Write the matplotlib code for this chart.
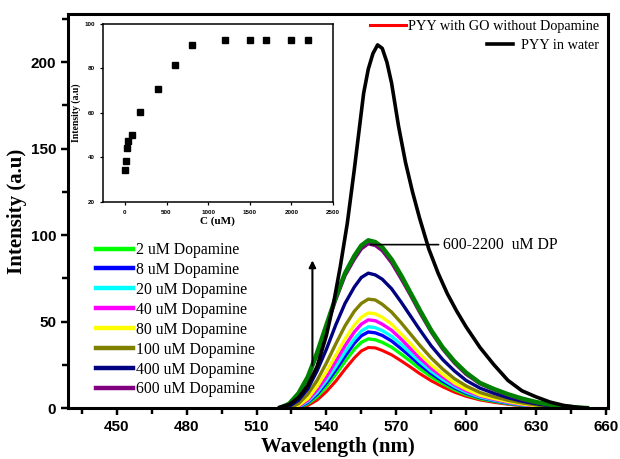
import numpy as np
import matplotlib

matplotlib.use("Agg")
import matplotlib.pyplot as plt
from matplotlib.lines import Line2D

nan = np.nan

# emission spectra (nm, a.u.)
wavelength = [520, 524, 528, 532, 536, 540, 544, 548, 552, 555, 558, 561, 564, 568, 572,
              576, 580, 585, 590, 595, 600, 606, 612, 618, 624, 630, 636, 642, 648, 652]

# PYY in water was read on a finer grid round its peak
water_wl = [520, 524, 528, 532, 536, 540, 543, 546, 549, 552, 554, 556, 558, 560, 562,
            564, 566, 568, 571, 574, 577, 580, 584, 588, 592, 596, 600, 606, 612, 618,
            624, 630, 636, 642, 648, 652]
pyy_water = [0.5, 2, 6, 13, 24, 42, 60, 82, 107, 138, 160, 182, 196, 205, 210,
             208, 200, 188, 163, 142, 125, 110, 92, 78, 66, 56, 47, 35, 25, 16,
             10, 6.5, 3.5, 1.5, 0.4, 0]

go_no_dp = [nan, 0, 0, 1.5, 4.6, 9.5, 15.5, 22.5, 29, 33, 35, 34.8, 33.3, 30.8, 27.4,
            23.8, 20, 15.8, 12.3, 9.2, 6.8, 4.7, 3.3, 2.2, 1.3, 0.7, 0.2, 0, nan, nan]
dp_2 = [nan, 0, 0.3, 2.5, 6.5, 12.5, 19.5, 27, 34, 38, 40, 39.5, 38, 35.2, 31.3,
        27.2, 22.9, 18.1, 14.1, 10.6, 7.8, 5.4, 3.9, 2.6, 1.6, 0.9, 0.3, 0, nan, nan]
dp_8 = [nan, 0, 0.5, 3.2, 8, 14.5, 22, 30, 37.5, 41.8, 44, 43.5, 42, 38.8, 34.5,
        30, 25.2, 20, 15.5, 11.7, 8.6, 6, 4.3, 2.9, 1.8, 1, 0.4, 0, nan, nan]
dp_20 = [nan, 0, 0.7, 3.8, 9, 16, 24, 32.5, 40, 44.5, 47, 46.5, 44.8, 41.5, 37,
         32, 27, 21.3, 16.5, 12.5, 9.2, 6.4, 4.6, 3.1, 1.9, 1, 0.4, 0, nan, nan]
dp_40 = [nan, 0, 1, 4.5, 10.5, 18, 27, 36, 44, 48.5, 51, 50.5, 48.5, 45, 40,
         34.5, 29, 23, 18, 13.5, 10, 7, 5, 3.4, 2.1, 1.2, 0.5, 0, nan, nan]
dp_80 = [nan, 0, 1.5, 5.5, 12.5, 21, 30.5, 40, 48, 52.5, 55, 54.5, 52.5, 48.5, 43,
         37.5, 31.5, 25, 19.5, 14.5, 11, 7.5, 5.5, 3.8, 2.4, 1.4, 0.6, 0, nan, nan]
dp_100 = [nan, 0, 2.5, 8, 16, 26, 37, 47.5, 56, 60.5, 63, 62.5, 60, 55.5, 49.5,
          43, 36.5, 29, 22.5, 17, 12.8, 9, 6.5, 4.5, 3, 1.8, 0.9, 0.2, 0, nan]
dp_400 = [0, 1, 4.5, 11, 21.5, 34, 48, 60.5, 70, 75.5, 78, 77, 74.5, 69, 61.5,
          53.5, 45.5, 36, 28, 21.5, 16, 11.5, 8.5, 6, 4, 2.5, 1.3, 0.5, 0, nan]
dp_600 = [0, 2, 8, 17, 31, 46.5, 62.5, 76.5, 86, 92, 95, 94, 91, 84, 75,
          65.5, 55.5, 44, 34, 26, 19.5, 14, 10.5, 7.5, 5, 3.2, 1.8, 0.8, 0.2, 0]
dp_high = [0, 2.5, 8.5, 18, 32, 48, 64, 78, 88, 94, 97, 96, 93, 86, 77,
           67, 57, 45, 35, 27, 20.5, 14.5, 11, 8, 5.5, 3.5, 2, 1, 0.3, 0]

dp_labels = ["2 uM Dopamine", "8 uM Dopamine", "20 uM Dopamine", "40 uM Dopamine",
             "80 uM Dopamine", "100 uM Dopamine", "400 uM Dopamine", "600 uM Dopamine"]
dp_colors = ["#00ff00", "#0000ff", "#00ffff", "#ff00ff", "#ffff00", "#808000", "#000080", "#800080"]

# inset: peak intensity vs concentration
conc = [2, 8, 20, 40, 80, 180, 400, 600, 800, 1200, 1500, 1700, 2000, 2200]
peak = [34.2, 38.3, 44.1, 47.4, 50.3, 60.2, 70.6, 81.4, 90.4, 92.6, 92.6, 92.6, 92.6, 92.6]

SERIF = "Liberation Serif"
SANS = "Liberation Sans"


def style_axes(ax, lw, size, length, minor=True):
    for s in ax.spines.values():
        s.set_linewidth(lw)
    ax.tick_params(which="major", direction="out", length=length, width=lw * 0.8,
                   labelsize=size, top=False, right=False)
    if minor:
        ax.tick_params(which="minor", direction="out", length=length * 0.8, width=lw * 0.8,
                       top=False, right=False)
    for lab in ax.get_xticklabels() + ax.get_yticklabels():
        lab.set_fontfamily(SANS)
        lab.set_fontweight("bold")


def main() -> None:
    fig = plt.figure(figsize=(6.2, 4.59), dpi=100)
    ax = fig.add_axes([0.1097, 0.111, 0.871, 0.859])

    x = np.array(wavelength, dtype=float)
    series = [dp_2, dp_8, dp_20, dp_40, dp_80, dp_100, dp_400, dp_600]

    ax.plot(x, go_no_dp, color="#ff0000", lw=2.2)
    dp_handles = []
    for y, c, lab in zip(series, dp_colors, dp_labels):
        ax.plot(x, y, color=c, lw=2.4)
        dp_handles.append(Line2D([], [], color=c, lw=3.2, label=lab))
    ax.plot(x, dp_high, color="#008000", lw=3.2)
    ax.plot(water_wl, pyy_water, color="black", lw=2.6)

    ax.set_xlim(429, 661)
    ax.set_ylim(0, 228)
    ax.set_xticks(np.arange(450, 661, 30))
    ax.set_xticks(np.arange(435, 661, 15), minor=True)
    ax.set_yticks(np.arange(0, 201, 50))
    ax.set_yticks(np.arange(25, 226, 50), minor=True)
    style_axes(ax, 2.2, 11, 5)

    ax.set_xlabel("Wavelength (nm)", fontfamily=SERIF, fontweight="bold", fontsize=15, labelpad=2)
    ax.set_ylabel("Intensity (a.u)", fontfamily=SERIF, fontweight="bold", fontsize=15, labelpad=3)

    # legends top right, right-aligned rows
    leg1 = ax.legend(handles=[Line2D([], [], color="#ff0000", lw=2.2)],
                     labels=["PYY with GO without Dopamine"], loc="upper right",
                     bbox_to_anchor=(1.0, 1.007), frameon=False, handlelength=2.5,
                     handletextpad=0.15, borderaxespad=0.2, prop={"family": SERIF, "size": 10.3})
    ax.add_artist(leg1)
    leg2 = ax.legend(handles=[Line2D([], [], color="black", lw=2.6)],
                     labels=["PYY in water"], loc="upper right",
                     bbox_to_anchor=(1.0, 0.959), frameon=False, handlelength=1.8,
                     handletextpad=0.6, borderaxespad=0.2, prop={"family": SERIF, "size": 10.3})
    ax.add_artist(leg2)

    ax.legend(handles=dp_handles, loc="upper left", bbox_to_anchor=(0.035, 0.445),
              frameon=False, handlelength=2.35, handletextpad=0.2, labelspacing=0.25,
              borderaxespad=0.2, prop={"family": SERIF, "size": 11.3})

    ax.annotate("", xy=(534, 87), xytext=(534, 23),
                arrowprops=dict(arrowstyle="-|>", color="black", lw=1.5, mutation_scale=10))
    ax.annotate("600-2200  uM DP", xy=(559, 94.5), xytext=(590, 94.5), va="center",
                fontfamily=SERIF, fontsize=11.3,
                arrowprops=dict(arrowstyle="-", color="black", lw=1.2, shrinkA=1, shrinkB=0))

    # inset
    ins = fig.add_axes([0.166, 0.56, 0.371, 0.388])
    ins.plot(conc, peak, "s", color="black", markersize=5)
    ins.set_xlim(-265, 2500)
    ins.set_ylim(20, 100)
    ins.set_xticks(np.arange(0, 2501, 500))
    ins.set_yticks(np.arange(20, 101, 20))
    style_axes(ins, 1.1, 4.5, 2.5, minor=False)
    ins.set_xlabel("C (uM)", fontfamily=SERIF, fontweight="bold", fontsize=8, labelpad=1)
    ins.set_ylabel("Intensity (a.u)", fontfamily=SERIF, fontweight="bold", fontsize=7, labelpad=2)

    fig.savefig("out.png", dpi=100)
    plt.close(fig)


if __name__ == "__main__":
    main()
